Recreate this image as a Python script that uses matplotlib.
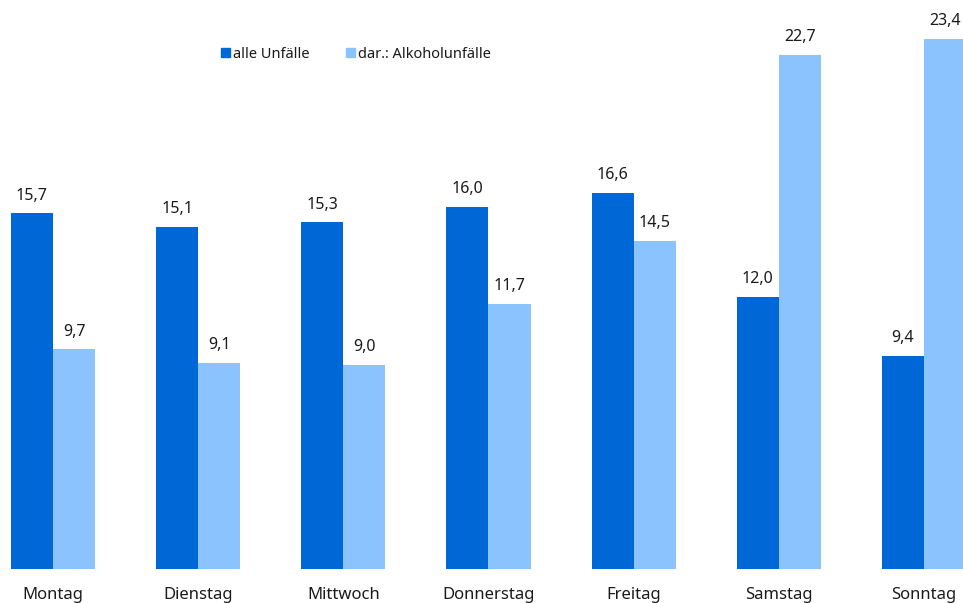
import numpy as np
import matplotlib.pyplot as plt

tage = ["Montag", "Dienstag", "Mittwoch", "Donnerstag", "Freitag", "Samstag", "Sonntag"]
alle = [15.7, 15.1, 15.3, 16.0, 16.6, 12.0, 9.4]
alkohol = [9.7, 9.1, 9.0, 11.7, 14.5, 22.7, 23.4]
serien = ["alle Unfälle", "dar.: Alkoholunfälle"]

dunkel = "#0068d6"
hell = "#8bc3ff"

plt.rcParams['font.family'] = ['Noto Sans', 'DejaVu Sans']

fig = plt.figure(figsize=(9.63, 6.03), dpi=100)
ax = fig.add_axes([0, 0, 1, 1])

x = np.arange(len(tage))
w = 0.29
b1 = ax.bar(x - w / 2, alle, w, color=dunkel, label=serien[0])
b2 = ax.bar(x + w / 2, alkohol, w, color=hell, label=serien[1])

def fmt(v):
    return ("%.1f" % v).replace(".", ",")

for bars, vals in [(b1, alle), (b2, alkohol)]:
    for r, v in zip(bars, vals):
        ax.annotate(fmt(v), (r.get_x() + r.get_width() / 2, v),
                    xytext=(0, 7), textcoords="offset points",
                    ha="center", va="bottom", fontsize=11.5, color="#1a1a1a")

for xi, t in zip(x, tage):
    ax.annotate(t, (xi, 0), xytext=(0, -19), textcoords="offset points",
                ha="center", va="center", fontsize=12, color="#1a1a1a")

ax.set_xlim(-0.365, 6.269)
ax.set_ylim(-1.50, 25.12)
ax.axis("off")

# legend drawn by hand: small squares with text
for px, farbe, txt in [(221, dunkel, serien[0]), (346, hell, serien[1])]:
    fig.patches.append(plt.Rectangle((px / 963, 1 - 57 / 603), 9 / 963, 9 / 603,
                                     transform=fig.transFigure, color=farbe))
    fig.text((px + 12) / 963, 1 - 54 / 603, txt, ha="left", va="center",
             fontsize=10.5, color="#1a1a1a")

fig.savefig("out.png", dpi=100)
